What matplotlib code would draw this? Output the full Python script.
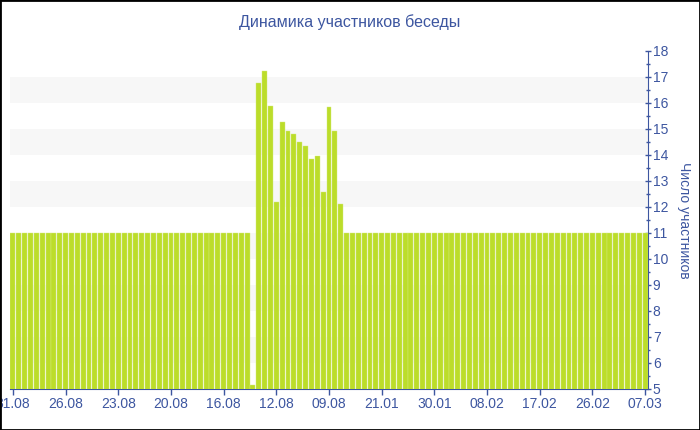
import matplotlib
matplotlib.use("Agg")
import matplotlib.pyplot as plt
from matplotlib.ticker import MultipleLocator

plt.rcParams['font.family'] = ['Liberation Sans', 'DejaVu Sans']

# chat members per record (109 bars)
values = (
    [11] * 41
    + [5.15, 16.76, 17.24, 15.9, 12.18, 15.26, 14.91, 14.82, 14.5, 14.35,
       13.85, 13.96, 12.57, 15.85, 14.92, 12.13]
    + [11] * 52
)
tick_labels = ["31.08", "26.08", "23.08", "20.08", "16.08", "12.08", "09.08",
               "21.01", "30.01", "08.02", "17.02", "26.02", "07.03"]
tick_step = 9

blue = "#3d56a0"
bar_color = "#bcdd2a"

fig = plt.figure(figsize=(7, 4.3), dpi=100)
ax = fig.add_axes([10 / 700, 41 / 430, 638 / 700, 338 / 430])

x = list(range(len(values)))
ax.bar(x, values, width=0.84, bottom=0, color=bar_color,
       edgecolor="#d4ea80", linewidth=0.3, zorder=3)

# alternating background bands
for lo in range(6, 18, 2):
    ax.axhspan(lo, lo + 1, color="#f7f7f7", zorder=0, lw=0)

ax.set_xlim(-0.5, len(values) - 0.5)
ax.set_ylim(5, 18)

ax.yaxis.tick_right()
ax.yaxis.set_label_position("right")
ax.yaxis.set_major_locator(MultipleLocator(1))
ax.yaxis.set_minor_locator(MultipleLocator(0.5))
ax.tick_params(axis="y", which="major", length=5, width=1, color=blue,
               labelcolor=blue, labelsize=10, pad=1, direction="inout")
ax.tick_params(axis="y", which="minor", length=3, width=1, color=blue,
               direction="inout")
ax.set_ylabel("Число участников", color=blue, fontsize=10,
              rotation=270, labelpad=16)

ax.set_xticks(list(range(0, len(values), tick_step)))
ax.set_xticklabels(tick_labels)
ax.tick_params(axis="x", length=4, width=1, color=blue, labelcolor=blue,
               labelsize=10, pad=2)

for side in ["top", "left"]:
    ax.spines[side].set_visible(False)
ax.spines["bottom"].set_color(blue)
ax.spines["right"].set_color(blue)

fig.text(0.5, 1 - 22 / 430, "Динамика участников беседы", color=blue,
         fontsize=11.5, ha="center", va="center")

# thin black frame around the image
fig.patches.append(plt.Rectangle((0, 0), 1, 1, transform=fig.transFigure,
                                 fill=False, edgecolor="black", linewidth=2))

fig.savefig("out.png", dpi=100)
